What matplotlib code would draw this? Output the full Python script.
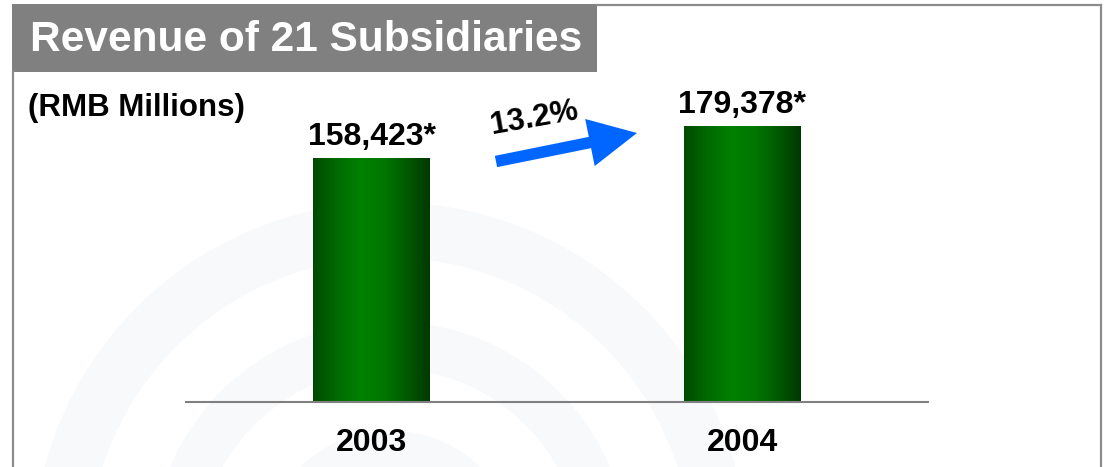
import numpy as np
import matplotlib.pyplot as plt
from matplotlib.colors import LinearSegmentedColormap
from matplotlib.patches import Rectangle, FancyArrow, Arc

years = ['2003', '2004']
revenue = [158423, 179378]
bar_labels = ['158,423*', '179,378*']
growth_label = '13.2%'
unit_label = '(RMB Millions)'
title = 'Revenue of 21 Subsidiaries'

plt.rcParams['font.family'] = ['Liberation Sans', 'DejaVu Sans']
plt.rcParams['font.weight'] = 'bold'

W, H = 1104, 467
fig = plt.figure(figsize=(W / 100, H / 100), dpi=100)

# pixel-space layer for frame, title banner, watermark and arrow
bg = fig.add_axes([0, 0, 1, 1])
bg.set_xlim(0, W)
bg.set_ylim(H, 0)
bg.axis('off')

# faint watermark arches
for r, lw in [(330, 40), (215, 34), (110, 28)]:
    bg.add_patch(Arc((390, 560), 2 * r, 2 * r, theta1=180, theta2=360,
                     color='#f7f9fb', lw=lw, zorder=0))

frame = '#8c8c8c'
bg.plot([13, 13], [72, H], color=frame, lw=1.6)
bg.plot([597, 1101], [5, 5], color=frame, lw=1.6)
bg.plot([1101, 1101], [5, H], color=frame, lw=1.6)
bg.add_patch(Rectangle((12, 4), 585, 68, fc='#808080', ec='none'))
bg.text(30, 40, title, color='white', fontsize=30.5, va='center', ha='left')
bg.text(28, 108, unit_label, color='black', fontsize=22.5, va='center', ha='left')

# growth arrow between the bars
bg.add_patch(FancyArrow(496, 161.5, 141, -28.5, width=11.5, head_width=48,
                        head_length=48, length_includes_head=True,
                        color='#0066ff', lw=0))
bg.text(534, 118, growth_label, fontsize=22.5, rotation=10,
        ha='center', va='center', rotation_mode='anchor')

# bar chart
ax = fig.add_axes([186 / W, (H - 402) / H, 742 / W, 312 / H])
ax.patch.set_alpha(0)
x = np.arange(len(years))
bars = ax.bar(x, revenue, width=0.315, color='none', zorder=2)
ax.set_xlim(-0.5, 1.5)
ax.set_ylim(0, revenue[0] * 312 / 244)

cmap = LinearSegmentedColormap.from_list(
    'bar_green', ['#004a00', '#006a00', '#008000', '#007800', '#005a00', '#003800'])
grad = np.linspace(0, 1, 256).reshape(1, -1)
for b in bars:
    im = ax.imshow(grad, cmap=cmap, aspect='auto', zorder=2,
                   extent=[b.get_x(), b.get_x() + b.get_width(), 0, b.get_height()])
    im.set_clip_path(b)

for xi, v, lab in zip(x, revenue, bar_labels):
    ax.annotate(lab, (xi, v), xytext=(0, 9), textcoords='offset points',
                ha='center', va='baseline', fontsize=23)

ax.set_xticks(x, years, fontsize=23)
ax.tick_params(axis='x', length=0, pad=19)
ax.set_yticks([])
for s in ['left', 'right', 'top']:
    ax.spines[s].set_visible(False)
ax.spines['bottom'].set_color('#808080')
ax.spines['bottom'].set_linewidth(1.5)

fig.savefig('out.png', dpi=100)
